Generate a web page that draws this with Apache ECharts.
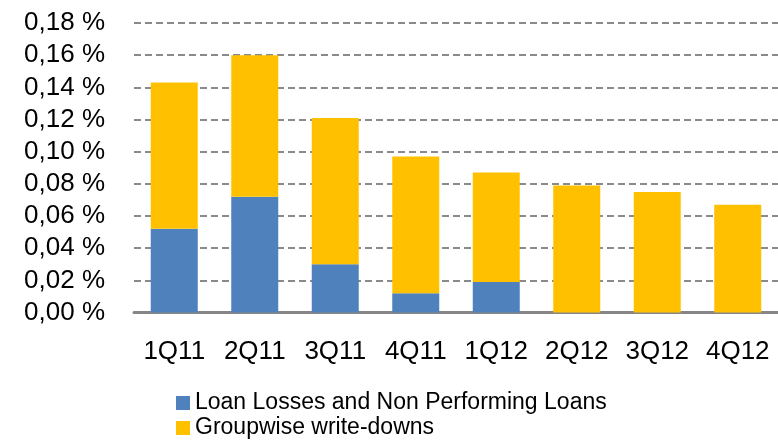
<!DOCTYPE html>
<html>
<head>
<meta charset="utf-8">
<script src="https://cdn.jsdelivr.net/npm/echarts@6/dist/echarts.min.js"></script>
<style>
  html, body { margin: 0; padding: 0; background: #ffffff; }
  #chart { width: 778px; height: 441px; }
</style>
</head>
<body>
<div id="chart"></div>
<script>
// Quarterly write-downs as a share of loans (in %)
const quarters = ['1Q11', '2Q11', '3Q11', '4Q11', '1Q12', '2Q12', '3Q12', '4Q12'];
const loanLosses = [0.052, 0.072, 0.030, 0.012, 0.019, 0, 0, 0];
const groupwiseWriteDowns = [0.091, 0.088, 0.091, 0.085, 0.068, 0.079, 0.075, 0.067];
const yTicks = { min: 0, max: 0.18, interval: 0.02 };

const seriesNames = ['Loan Losses and Non Performing Loans', 'Groupwise write-downs'];
const font = 'Liberation Sans, Arial, sans-serif';

// one legend entry per row, stacked below the axis
const legendRow = (name, top) => ({
  left: 176,
  top: top,
  padding: 0,
  itemWidth: 14,
  itemHeight: 14,
  itemGap: 0,
  icon: 'rect',
  textStyle: { fontFamily: font, fontSize: 23, lineHeight: 25, color: '#000000' },
  data: [name]
});

const chart = echarts.init(document.getElementById('chart'), null, { renderer: 'canvas' });
chart.setOption({
  animation: false,
  backgroundColor: '#ffffff',
  grid: { left: 134, right: -2, top: 23, bottom: 128.5, containLabel: false },
  legend: [legendRow(seriesNames[0], 390.5), legendRow(seriesNames[1], 415.5)],
  xAxis: {
    type: 'category',
    data: quarters,
    axisTick: { show: false },
    axisLine: { lineStyle: { color: '#868686', width: 3 } },
    axisLabel: { color: '#000000', fontFamily: font, fontSize: 26, margin: 26, interval: 0 }
  },
  yAxis: {
    type: 'value',
    min: yTicks.min,
    max: yTicks.max,
    interval: yTicks.interval,
    axisLine: { show: false },
    axisTick: { show: false },
    axisLabel: {
      color: '#000000',
      fontFamily: font,
      fontSize: 26,
      margin: 29,
      formatter: v => v.toFixed(2).replace('.', ',') + ' %'
    },
    splitLine: { lineStyle: { color: '#8a8a8a', width: 2, type: [7, 4] } }
  },
  series: [
    {
      name: seriesNames[0],
      type: 'bar',
      stack: 'total',
      barWidth: 47,
      itemStyle: { color: '#4F81BD' },
      data: loanLosses
    },
    {
      name: seriesNames[1],
      type: 'bar',
      stack: 'total',
      barWidth: 47,
      itemStyle: { color: '#FFC000' },
      data: groupwiseWriteDowns
    }
  ]
});
</script>
</body>
</html>
